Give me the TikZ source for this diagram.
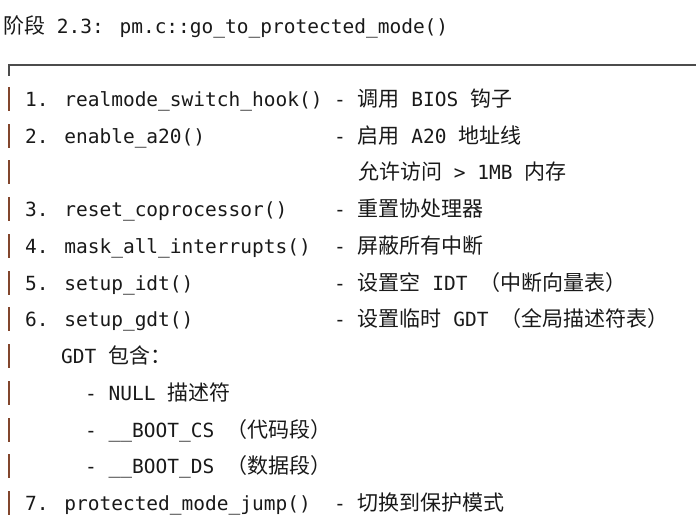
\documentclass[tikz,border=0pt]{standalone}
\usepackage{fontspec}
\setmainfont{DejaVu Sans Mono}
\newfontfamily\cjkf{Noto Sans CJK SC}
\newcommand{\cjk}{\cjkf\fontsize{21}{22}\selectfont}
\definecolor{barc}{RGB}{130,70,45}
\begin{document}
\begin{tikzpicture}[x=1pt,y=-1pt,
  txt/.style={anchor=base west,inner sep=0pt,font=\fontsize{19.5}{20}\selectfont,text=black!90},
  bar/.style={draw=barc,line width=1.8pt}]
\useasboundingbox (0,0) rectangle (696,520);
\node[txt] (title) at (3,33) {{\cjk 阶段} 2.3: pm.c::go\_to\_protected\_mode()};
\coordinate (tl) at (9,65);
\coordinate (tr) at (696,65);
\draw[draw=black!70,line width=1.3pt] (tr) -- (tl) -- ++(0,11);
\foreach \y in {99,136,172,209,246,283,319,356,393,430,466,503}{
  \draw[bar] (9,\y-12) -- (9,\y+12);
}
\node[txt] (a1) at (25,106) {1. realmode\_switch\_hook()};
\node[txt] (b1) at (334,106) {- {\cjk 调用} BIOS {\cjk 钩子}};
\node[txt] (a2) at (25,143) {2. enable\_a20()};
\node[txt] (b2) at (334,143) {- {\cjk 启用} A20 {\cjk 地址线}};
\node[txt] (b2b) at (358,179) {{\cjk 允许访问} > 1MB {\cjk 内存}};
\node[txt] (a3) at (25,216) {3. reset\_coprocessor()};
\node[txt] (b3) at (334,216) {- {\cjk 重置协处理器}};
\node[txt] (a4) at (25,253) {4. mask\_all\_interrupts()};
\node[txt] (b4) at (334,253) {- {\cjk 屏蔽所有中断}};
\node[txt] (a5) at (25,290) {5. setup\_idt()};
\node[txt] (b5) at (334,290) {- {\cjk 设置空} IDT {\cjk （中断向量表）}};
\node[txt] (a6) at (25,326) {6. setup\_gdt()};
\node[txt] (b6) at (334,326) {- {\cjk 设置临时} GDT {\cjk （全局描述符表）}};
\node[txt] (g0) at (61,363) {GDT {\cjk 包含：}};
\node[txt] (g1) at (85,400) {- NULL {\cjk 描述符}};
\node[txt] (g2) at (85,437) {- \_\_BOOT\_CS {\cjk （代码段）}};
\node[txt] (g3) at (85,473) {- \_\_BOOT\_DS {\cjk （数据段）}};
\node[txt] (a7) at (25,510) {7. protected\_mode\_jump()};
\node[txt] (b7) at (334,510) {- {\cjk 切换到保护模式}};
\end{tikzpicture}
\end{document}
